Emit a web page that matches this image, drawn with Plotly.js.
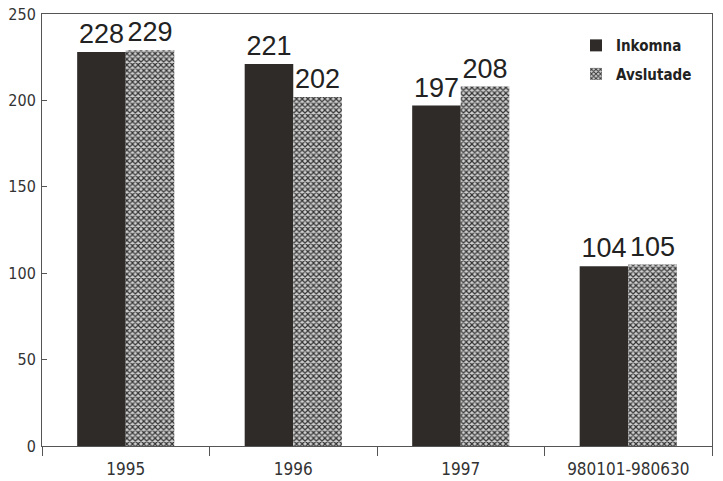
<!DOCTYPE html>
<html>
<head>
<meta charset="utf-8">
<script src="https://cdn.plot.ly/plotly-3.0.1.min.js"></script>
<style>html,body{margin:0;padding:0;background:#fff;}#chart{width:723px;height:481px;}</style>
</head>
<body>
<div id="chart"></div>
<script>
const categories = ["1995", "1996", "1997", "980101-980630"];
const inkomna = [228, 221, 197, 104];
const avslutade = [229, 202, 208, 105];
const seriesNames = ["Inkomna", "Avslutade"];
const yTicks = [0, 50, 100, 150, 200, 250];

const narrow = '"DejaVu Sans Condensed", "Liberation Sans Narrow", sans-serif';
const valFont = {family: '"Liberation Sans", Arial, sans-serif', size: 27, color: '#222'};

const traces = [
  {
    type: 'bar', x: categories, y: inkomna, name: seriesNames[0],
    legendgroup: 'a',
    text: inkomna.map(String), textposition: 'outside', textfont: valFont,
    cliponaxis: false,
    marker: {color: '#2f2b29', line: {width: 0}}
  },
  {
    type: 'bar', x: categories, y: avslutade, name: seriesNames[1],
    legendgroup: 'b',
    text: avslutade.map(String), textposition: 'outside', textfont: valFont,
    cliponaxis: false,
    marker: {color: '#9a9a9a', line: {width: 0},
      pattern: {shape: 'x', size: 4, solidity: 0.5, fgcolor: '#333', bgcolor: '#d0d0d0', fillmode: 'replace'}}
  }
];

const layout = {
  width: 723, height: 481,
  margin: {l: 42, r: 11, t: 14, b: 35},
  paper_bgcolor: '#fff', plot_bgcolor: '#fff',
  barmode: 'group', bargap: 0.42, bargroupgap: 0,
  showlegend: true,
  legend: {
    x: 0.797, y: 0.965, xanchor: 'left', yanchor: 'top',
    font: {family: narrow, size: 15, color: '#222', weight: 'bold'},
    traceorder: 'grouped', tracegroupgap: 6,
    bgcolor: 'rgba(0,0,0,0)'
  },
  xaxis: {
    type: 'category', tickson: 'boundaries',
    showline: true, linecolor: '#555', linewidth: 1, mirror: true,
    ticks: 'outside', ticklen: 9, tickcolor: '#555',
    showgrid: false, zeroline: false,
    tickfont: {family: narrow, size: 17, color: '#333'},
    ticklabelstandoff: 8
  },
  yaxis: {
    range: [0, 250], tickvals: yTicks, ticktext: yTicks.map(String),
    showline: true, linecolor: '#555', linewidth: 1, mirror: true,
    ticks: 'inside', ticklen: 5, tickcolor: '#555',
    showgrid: false, zeroline: false,
    tickfont: {family: narrow, size: 16, color: '#333'},
    ticklabelstandoff: 2
  }
};

Plotly.newPlot('chart', traces, layout, {displayModeBar: false, staticPlot: true});
</script>
</body>
</html>
